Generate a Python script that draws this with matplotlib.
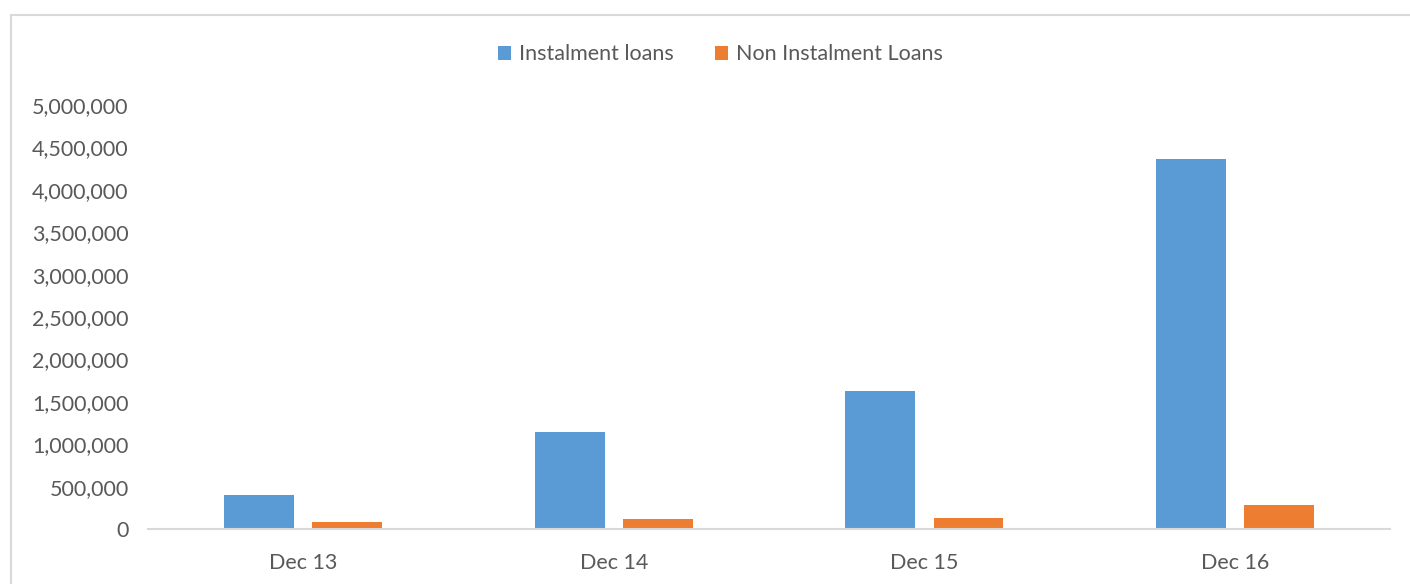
import matplotlib.pyplot as plt
from matplotlib.patches import Rectangle
from matplotlib.ticker import FuncFormatter
import numpy as np

# Loan balances by year-end
periods = ['Dec 13', 'Dec 14', 'Dec 15', 'Dec 16']
instalment = [400000, 1140000, 1625000, 4360000]
non_instalment = [80000, 114000, 130000, 280000]

plt.rcParams['font.family'] = ['Lato', 'DejaVu Sans']

fig = plt.figure(figsize=(14.1, 5.84), dpi=100)
ax = fig.add_axes([0.105, 0.094, 0.881, 0.726])

x = np.arange(len(periods))
width = 0.225
ax.bar(x - 0.142, instalment, width, color='#5B9BD5', label='Instalment loans')
ax.bar(x + 0.142, non_instalment, width, color='#ED7D31', label='Non Instalment Loans')

ax.set_xlim(-0.5, 3.5)
ax.set_ylim(0, 5000000)
ax.set_yticks(np.arange(0, 5000001, 500000))
ax.yaxis.set_major_formatter(FuncFormatter(lambda v, p: f'{int(v):,}'))
ax.set_xticks(x)
ax.set_xticklabels(periods)

for s in ['top', 'right', 'left']:
    ax.spines[s].set_visible(False)
ax.spines['bottom'].set_color('#D9D9D9')
ax.spines['bottom'].set_linewidth(1.5)
ax.tick_params(axis='both', length=0, labelsize=15.5, labelcolor='#595959')
ax.tick_params(axis='y', pad=14)
ax.tick_params(axis='x', pad=17)

fig.legend(loc='center', bbox_to_anchor=(0.511, 0.907), ncol=2, frameon=False,
           fontsize=15.5, labelcolor='#595959', handlelength=0.6, handleheight=0.6,
           handletextpad=0.4, columnspacing=1.9)

# chart area border
fig.patches.append(Rectangle((11 / 1410, -0.1), 1.2, 1.1 - 15 / 584,
                             transform=fig.transFigure, fill=False,
                             edgecolor='#D9D9D9', linewidth=1.5))

fig.savefig('out.png', dpi=100)
